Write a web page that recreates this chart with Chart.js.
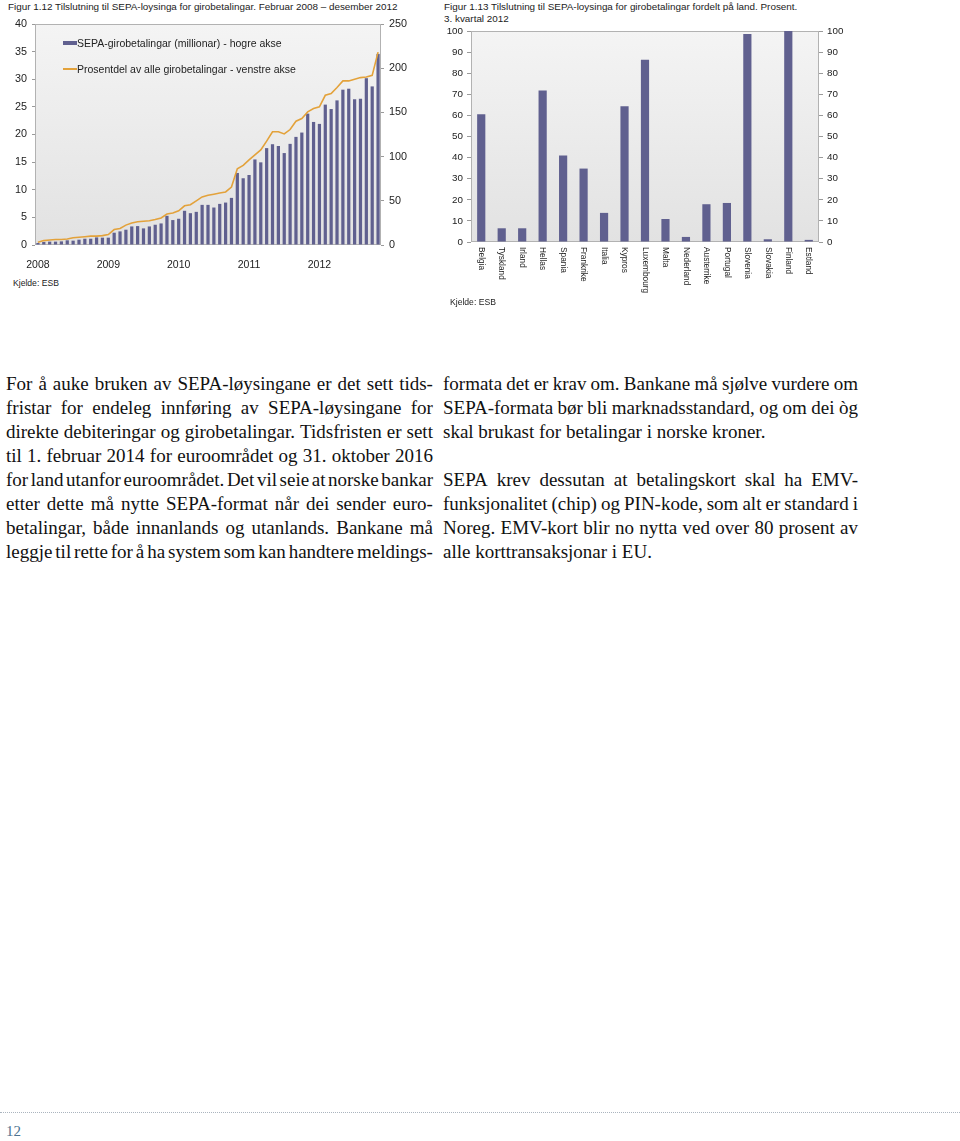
<!DOCTYPE html>
<html><head><meta charset="utf-8">
<script src="https://cdn.jsdelivr.net/npm/chart.js@4.4.1/dist/chart.umd.min.js"></script>
<style>
html,body{margin:0;padding:0;background:#fff;}
body{width:960px;height:1141px;position:relative;overflow:hidden;font-family:"Liberation Sans",Arial,sans-serif;color:#222;}
.abs{position:absolute;white-space:nowrap;}
.ttl{font-size:9.9px;line-height:12px;color:#222;}
.src{font-size:8.6px;line-height:10px;color:#222;}
.leg{font-size:10.5px;line-height:12px;color:#222;}
canvas{position:absolute;}
.col{position:absolute;top:372px;font-family:"Liberation Serif","Times New Roman",serif;font-size:19px;line-height:24px;color:#111;}
.ln{display:flex;justify-content:space-between;white-space:pre;height:24px;}
.ln.l{display:block;}
</style>
</head><body>

<div class="abs ttl" style="left:8px;top:1px;">Figur 1.12 Tilslutning til SEPA-loysinga for girobetalingar. Februar 2008 – desember 2012</div>
<canvas id="c1" width="430" height="270" style="left:0;top:0;"></canvas>
<div class="abs" style="left:63px;top:41px;width:14px;height:4px;background:#60608f;"></div>
<div class="abs leg" style="left:77px;top:37px;">SEPA-girobetalingar (millionar) - hogre akse</div>
<div class="abs" style="left:63px;top:68px;width:14px;height:1.6px;background:#e3a23b;"></div>
<div class="abs leg" style="left:77px;top:63px;">Prosentdel av alle girobetalingar - venstre akse</div>
<div class="abs src" style="left:13px;top:278px;">Kjelde: ESB</div>

<div class="abs ttl" style="left:444px;top:1px;">Figur 1.13 Tilslutning til SEPA-loysinga for girobetalingar fordelt på land. Prosent.</div>
<div class="abs ttl" style="left:444px;top:13px;">3. kvartal 2012</div>
<canvas id="c2" width="420" height="300" style="left:440px;top:0;"></canvas>
<div class="abs src" style="left:450px;top:297px;">Kjelde: ESB</div>

<div class="col" id="colL" style="left:6px;width:427px;"></div>
<div class="col" id="colR" style="left:443px;width:415px;"></div>

<div class="abs" style="left:0;top:1112px;width:960px;border-top:1px dotted #aab4be;"></div>
<div class="abs" style="left:6px;top:1123px;font-family:'Liberation Serif',serif;font-size:15px;line-height:16px;color:#4d7391;">12</div>

<script>
// ---------- Data: Figur 1.12 ----------
const monthLabels = [
 '2008-02','2008-03','2008-04','2008-05','2008-06','2008-07','2008-08','2008-09','2008-10','2008-11','2008-12',
 '2009-01','2009-02','2009-03','2009-04','2009-05','2009-06','2009-07','2009-08','2009-09','2009-10','2009-11','2009-12',
 '2010-01','2010-02','2010-03','2010-04','2010-05','2010-06','2010-07','2010-08','2010-09','2010-10','2010-11','2010-12',
 '2011-01','2011-02','2011-03','2011-04','2011-05','2011-06','2011-07','2011-08','2011-09','2011-10','2011-11','2011-12',
 '2012-01','2012-02','2012-03','2012-04','2012-05','2012-06','2012-07','2012-08','2012-09','2012-10','2012-11','2012-12'
];
const yearTicks = ['2008','2009','2010','2011','2012'];
const yearTickIndex = [0,12,24,36,48];
const sepaGiroMillions = [2.3,3.4,3.8,3.8,4.1,5.3,4.9,6,7.1,7.1,8.6,8.3,8.3,13.9,15.4,17.3,21,21.4,18.8,21,22.9,24.4,33,28.2,29.7,38.7,36,37.5,45.4,45.4,42.4,46.5,48,53.3,81.5,75.5,79.2,96.8,93.5,109.6,114,112,104,114.4,122.3,127.2,148.6,139.2,137,158.8,153.8,163.6,175.7,176.8,164.8,165.5,188.7,179.4,216.2];
const sepaSharePct = [0.5,0.8,0.9,1.0,1.0,1.1,1.3,1.4,1.5,1.6,1.6,1.7,1.9,2.8,3.0,3.6,4.0,4.2,4.3,4.4,4.6,4.9,5.6,5.8,6.2,7.1,7.3,8.0,8.7,9.0,9.2,9.4,9.6,10.5,13.8,14.4,15.4,16.3,17.2,18.8,20.5,20.5,20.1,20.9,22.4,22.9,24.1,24.7,25.0,27.1,27.4,28.5,29.7,29.7,30.0,30.3,30.4,30.7,34.9];
const seriesNames1 = ['SEPA-girobetalingar (millionar) - hogre akse','Prosentdel av alle girobetalingar - venstre akse'];

// ---------- Data: Figur 1.13 ----------
const countries = ['Belgia','Tyskland','Irland','Hellas','Spania','Frankrike','Italia','Kypros','Luxembourg','Malta','Nederland','Austerrike','Portugal','Slovenia','Slovakia','Finland','Estland'];
const countryPct = [60.5,6.5,6.5,71.8,41,34.8,13.8,64.3,86.4,10.9,2.4,17.9,18.5,98.6,1.3,100,1.0];

// ---------- Body text ----------
const leftLines = [
 ['j','For å auke bruken av SEPA-løysingane er det sett tids-'],
 ['j','fristar for endeleg innføring av SEPA-løysingane for'],
 ['j','direkte debiteringar og girobetalingar. Tidsfristen er sett'],
 ['j','til 1. februar 2014 for euroområdet og 31. oktober 2016'],
 ['j','for land utanfor euroområdet. Det vil seie at norske bankar'],
 ['j','etter dette må nytte SEPA-format når dei sender euro-'],
 ['j','betalingar, både innanlands og utanlands. Bankane må'],
 ['j','leggje til rette for å ha system som kan handtere meldings-']
];
const rightLines = [
 ['j','formata det er krav om. Bankane må sjølve vurdere om'],
 ['j','SEPA-formata bør bli marknadsstandard, og om dei òg'],
 ['l','skal brukast for betalingar i norske kroner.'],
 ['l',''],
 ['j','SEPA krev dessutan at betalingskort skal ha EMV-'],
 ['j','funksjonalitet (chip) og PIN-kode, som alt er standard i'],
 ['j','Noreg. EMV-kort blir no nytta ved over 80 prosent av'],
 ['l','alle korttransaksjonar i EU.']
];
function fillCol(el, lines){
  lines.forEach(([mode, txt])=>{
    const d = document.createElement('div');
    d.className = 'ln' + (mode==='l' ? ' l' : '');
    if(mode==='l'){ d.textContent = txt; }
    else { txt.split(' ').forEach(w=>{ const s=document.createElement('span'); s.textContent=w; d.appendChild(s); }); }
    el.appendChild(d);
  });
}
fillCol(document.getElementById('colL'), leftLines);
fillCol(document.getElementById('colR'), rightLines);

// ---------- Charts ----------
const FONT = '"Liberation Sans", Arial, sans-serif';
const BAR = '#60608f', LINE = '#e3a23b';
Chart.defaults.font.family = FONT;
Chart.defaults.color = '#222';

const plotBg = {
  id:'plotBg',
  beforeDatasetsDraw(chart){
    const {ctx, chartArea:a} = chart;
    ctx.save();
    const g = ctx.createLinearGradient(0,a.top,0,a.bottom);
    g.addColorStop(0,'#f4f4f4'); g.addColorStop(1,'#e2e2e2');
    ctx.fillStyle = g; ctx.fillRect(a.left,a.top,a.right-a.left,a.bottom-a.top);
    ctx.strokeStyle = '#b2b2b2'; ctx.lineWidth = 1;
    ctx.strokeRect(a.left+0.5,a.top+0.5,a.right-a.left-1,a.bottom-a.top-1);
    ctx.restore();
  }
};

new Chart(document.getElementById('c1'), {
  data:{
    labels: monthLabels,
    datasets:[
      {type:'bar', label:seriesNames1[0], data:sepaGiroMillions, yAxisID:'y1', backgroundColor:BAR, barPercentage:0.55, categoryPercentage:1, order:2},
      {type:'line', label:seriesNames1[1], data:sepaSharePct, yAxisID:'y', borderColor:LINE, borderWidth:1.6, pointRadius:0, tension:0, order:1}
    ]
  },
  options:{
    responsive:false, animation:false, devicePixelRatio:1,
    layout:{padding:{top:24,left:0,right:0,bottom:0}},
    plugins:{legend:{display:false}, tooltip:{enabled:false}},
    scales:{
      x:{type:'category', offset:true, grid:{display:false}, border:{display:false},
         ticks:{autoSkip:false, maxRotation:0, minRotation:0, padding:6, font:{size:10.5}, color:'#222',
           callback:(v,i)=>{ const k=yearTickIndex.indexOf(i); return k>=0?yearTicks[k]:''; }},
         afterFit:s=>{s.height=25;}},
      y:{position:'left', min:0, max:40, ticks:{stepSize:5, padding:5, font:{size:10.8}, color:'#222'},
         grid:{display:true, drawOnChartArea:false, tickLength:3, color:'#9a9a9a'}, border:{display:false},
         afterFit:s=>{s.width=35;}},
      y1:{position:'right', min:0, max:250, ticks:{stepSize:50, padding:5, font:{size:10.8}, color:'#222'},
         grid:{display:true, drawOnChartArea:false, tickLength:3, color:'#9a9a9a'}, border:{display:false},
         afterFit:s=>{s.width=49;}}
    }
  },
  plugins:[plotBg]
});

const rotLabels = {
  id:'rotLabels',
  afterDraw(chart){
    const xs = chart.scales.x, ctx = chart.ctx;
    ctx.save();
    ctx.font = '8.3px ' + FONT; ctx.fillStyle = '#222';
    ctx.textAlign = 'left'; ctx.textBaseline = 'middle';
    chart.data.labels.forEach((c,i)=>{
      const x = xs.getPixelForValue(i);
      ctx.save(); ctx.translate(x, chart.chartArea.bottom + 5); ctx.rotate(Math.PI/2);
      ctx.fillText(c, 0, 0); ctx.restore();
    });
    ctx.restore();
  }
};

new Chart(document.getElementById('c2'), {
  type:'bar',
  data:{ labels: countries, datasets:[{label:'Prosent', data:countryPct, backgroundColor:BAR, barPercentage:0.4, categoryPercentage:1}] },
  options:{
    responsive:false, animation:false, devicePixelRatio:1,
    layout:{padding:{top:31,left:0,right:0,bottom:0}},
    plugins:{legend:{display:false}, tooltip:{enabled:false}},
    scales:{
      x:{offset:true, grid:{display:false}, border:{display:false}, ticks:{display:false}, afterFit:s=>{s.height=58;}},
      y:{position:'left', min:0, max:100, ticks:{stepSize:10, padding:4, font:{size:9.8}, color:'#222'},
         grid:{display:true, drawOnChartArea:false, tickLength:4, color:'#9a9a9a'}, border:{display:false},
         afterFit:s=>{s.width=31;}},
      y2:{position:'right', min:0, max:100, ticks:{stepSize:10, padding:4, font:{size:9.8}, color:'#222'},
         grid:{display:true, drawOnChartArea:false, tickLength:4, color:'#9a9a9a'}, border:{display:false},
         afterFit:s=>{s.width=41;}}
    }
  },
  plugins:[plotBg, rotLabels]
});
</script>
</body></html>
